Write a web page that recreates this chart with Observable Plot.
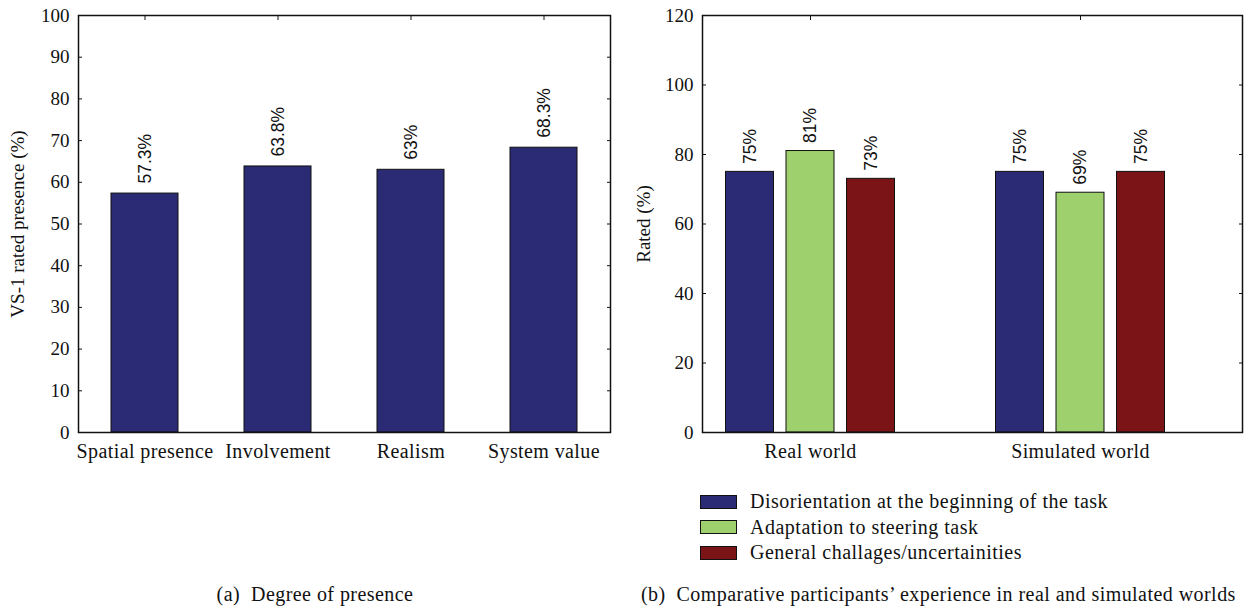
<!DOCTYPE html>
<html><head><meta charset="utf-8">
<script src="https://cdn.jsdelivr.net/npm/d3@7"></script>
<script src="https://cdn.jsdelivr.net/npm/@observablehq/plot@0.6"></script>
<style>
body{margin:0;background:#fff;}
#wrap{position:relative;width:1248px;height:610px;font-family:"Liberation Serif",serif;color:#111;overflow:hidden;}
#left{position:absolute;left:0;top:0;}
#right{position:absolute;left:624px;top:0;}
#legend{position:absolute;left:700px;top:489px;font-size:20px;letter-spacing:0.5px;}
#legend .row{display:flex;align-items:center;height:25.5px;}
#legend .sw{width:37px;height:14px;border:1px solid #111;margin-right:13px;box-sizing:border-box;}
.cap{position:absolute;top:583px;font-size:20px;white-space:pre;letter-spacing:0.45px;}
.xlab text{letter-spacing:0.4px;}
</style></head><body>
<div id="wrap">
  <div id="left"></div>
  <div id="right"></div>
  <div id="legend"></div>
  <div class="cap" id="capA" style="left:315px;transform:translateX(-50%)">(a)  Degree of presence</div>
  <div class="cap" id="capB" style="left:641px">(b)  Comparative participants’ experience in real and simulated worlds</div>
</div>
<script>
// ---- data ----
const leftCategories = ["Spatial presence", "Involvement", "Realism", "System value"];
const leftValues = [57.3, 63.8, 63, 68.3];
const leftLabels = ["57.3%", "63.8%", "63%", "68.3%"];
const leftYTicks = [0, 10, 20, 30, 40, 50, 60, 70, 80, 90, 100];

const rightGroups = ["Real world", "Simulated world"];
const rightSeries = ["Disorientation at the beginning of the task", "Adaptation to steering task", "General challages/uncertainities"];
const rightRealWorld = [75, 81, 73];
const rightSimulatedWorld = [75, 69, 75];
const rightLabelsReal = ["75%", "81%", "73%"];
const rightLabelsSim = ["75%", "69%", "75%"];
const rightYTicks = [0, 20, 40, 60, 80, 100, 120];
const seriesColors = ["#2a2a75", "#9fd06e", "#7a1416"];

// ---- tables ----
const leftData = leftCategories.map((c, i) => ({category: c, value: leftValues[i], label: leftLabels[i]}));
const rightValues = [rightRealWorld, rightSimulatedWorld];
const rightLabels = [rightLabelsReal, rightLabelsSim];
const SUB_STEP = 60.5 / 270, SUB_W = 48 / 270; // bar layout within a group (group spacing = 1)
const rightData = [];
rightGroups.forEach((g, gi) => rightSeries.forEach((s, si) => {
  const c = gi + (si - 1) * SUB_STEP;
  rightData.push({group: g, series: s, value: rightValues[gi][si], label: rightLabels[gi][si], x1: c - SUB_W / 2, x2: c + SUB_W / 2, xc: c});
}));

const axisFont = {fontFamily: "Liberation Serif", fontSize: "19px", color: "#111", background: "transparent", overflow: "visible"};

const leftPlot = Plot.plot({
  width: 624, height: 480,
  marginLeft: 78, marginRight: 14, marginTop: 15, marginBottom: 48,
  style: axisFont,
  x: {domain: leftCategories, paddingInner: 0.5, paddingOuter: 0.25},
  y: {domain: [0, 100]},
  marks: [
    Plot.barY(leftData, {x: "category", y: "value", fill: seriesColors[0], stroke: "#111", strokeWidth: 1}),
    Plot.text(leftData, {x: "category", y: "value", text: "label", rotate: -90, textAnchor: "start", dy: -10, fontFamily: "Liberation Sans", fontSize: 17.5, fill: "#111"}),
    Plot.frame({stroke: "#111", strokeWidth: 1.5}),
    Plot.axisY({anchor: "left", ticks: leftYTicks, tickSize: -4, tickPadding: 13, label: "VS-1 rated presence (%)", labelAnchor: "center", labelArrow: "none", labelOffset: 68, fontSize: 19}),
    Plot.axisY({anchor: "right", ticks: leftYTicks, tickSize: -4, tickFormat: () => "", label: null}),
    Plot.axisX({anchor: "top", tickSize: -4, tickFormat: () => "", label: null}),
    Plot.axisX({anchor: "bottom", tickSize: 0, tickPadding: 11, label: null, fontSize: 20, className: "xlab"})
  ]
});
document.getElementById("left").appendChild(leftPlot);

const rightPlot = Plot.plot({
  width: 624, height: 480,
  marginLeft: 78, marginRight: 6, marginTop: 15, marginBottom: 48,
  style: axisFont,
  x: {type: "linear", domain: [-0.4, 1.6]},
  y: {domain: [0, 120]},
  color: {domain: rightSeries, range: seriesColors},
  marks: [
    Plot.rect(rightData, {x1: "x1", x2: "x2", y1: 0, y2: "value", fill: "series", stroke: "#111", strokeWidth: 1}),
    Plot.text(rightData, {x: "xc", y: "value", text: "label", rotate: -90, textAnchor: "start", dy: -8, fontFamily: "Liberation Sans", fontSize: 17.5, fill: "#111"}),
    Plot.frame({stroke: "#111", strokeWidth: 1.5}),
    Plot.axisY({anchor: "left", ticks: rightYTicks, tickSize: -4, tickPadding: 13, label: "Rated (%)", labelAnchor: "center", labelArrow: "none", labelOffset: 66, fontSize: 19}),
    Plot.axisY({anchor: "right", ticks: rightYTicks, tickSize: -4, tickFormat: () => "", label: null}),
    Plot.axisX({anchor: "top", ticks: [0, 1], tickSize: -4, tickFormat: () => "", label: null}),
    Plot.axisX({anchor: "bottom", ticks: [0, 1], tickSize: 0, tickPadding: 11, tickFormat: i => rightGroups[i], label: null, fontSize: 20, className: "xlab"})
  ]
});
document.getElementById("right").appendChild(rightPlot);

const legend = document.getElementById("legend");
rightSeries.forEach((s, i) => {
  const row = document.createElement("div");
  row.className = "row";
  const sw = document.createElement("span");
  sw.className = "sw";
  sw.style.background = seriesColors[i];
  const t = document.createElement("span");
  t.textContent = s;
  row.appendChild(sw); row.appendChild(t);
  legend.appendChild(row);
});
</script>
</body></html>
